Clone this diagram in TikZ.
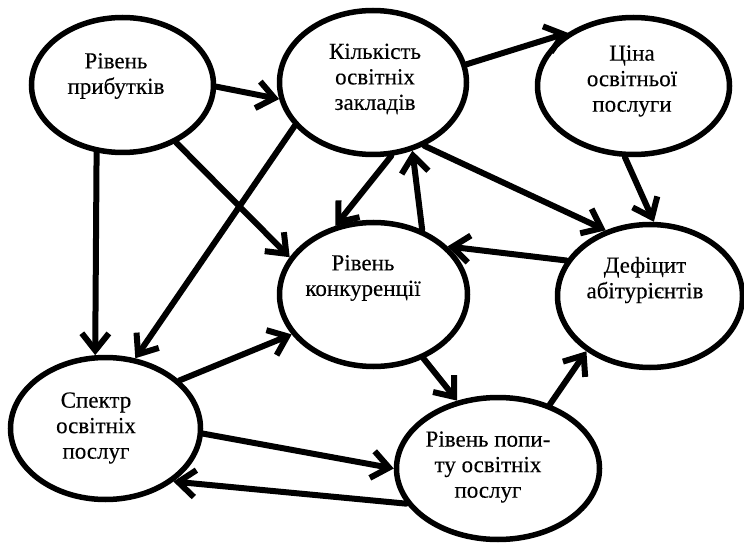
\documentclass[tikz,border=0pt]{standalone}
\usepackage{fontspec}
\setmainfont{Liberation Serif}
\newfontfamily\ovalfont{Liberation Serif}[FakeBold=0.25]
\usetikzlibrary{shapes.geometric,arrows.meta}

\begin{document}
\begin{tikzpicture}[
    x=1pt, y=-1pt,
    oval/.style={draw, ellipse, line width=5.5pt, inner sep=0pt},
    words/.style={align=center, inner sep=0pt, font=\ovalfont\fontsize{23}{25.5}\selectfont},
    link/.style={line width=6pt, line cap=round, -{Straight Barb[length=17pt, width=27pt]}}
]
\useasboundingbox (0,0) rectangle (744,545);

% ovals
\node[oval, minimum width=182pt, minimum height=135pt] (prib) at (122.5,85) {};
\node[oval, minimum width=187pt, minimum height=144pt] (kilk) at (373,82.5) {};
\node[oval, minimum width=192pt, minimum height=137pt] (tsina) at (633.5,86) {};
\node[oval, minimum width=188pt, minimum height=144pt] (konk) at (373.5,294.5) {};
\node[oval, minimum width=185pt, minimum height=143pt] (defic) at (650,296) {};
\node[oval, minimum width=190pt, minimum height=142pt] (spektr) at (105.5,428.5) {};
\node[oval, minimum width=203pt, minimum height=142pt] (popyt) at (498,468.5) {};

% texts
\node[words] (prib-t) at (116,76) {Рівень\\прибутків};
\node[words] (kilk-t) at (375,79) {Кількість\\освітніх\\закладів};
\node[words] (tsina-t) at (632,81) {Ціна\\освітньої\\послуги};
\node[words] (konk-t) at (363,278) {Рівень\\конкуренції};
\node[words] (defic-t) at (645,280) {Дефіцит\\абітурієнтів};
\node[words] (spektr-t) at (96,428) {Спектр\\освітніх\\послуг};
\node[words] (popyt-t) at (488,467) {Рівень попи-\\ту освітніх\\послуг};

% links
\draw[link] (prib.-1) -- (kilk.190);
\draw[link] (prib.249) -- (spektr.98);
\draw[link] (prib.-47) -- (konk.156);
\draw[link] (kilk.209) -- (spektr.67);
\draw[link] (kilk.11) -- (tsina.141);
\draw[link] (kilk.284) -- (konk.119);
\draw[link] (konk.53) -- (kilk.300);
\draw[link] (kilk.309) -- (defic.124);
\draw[link] (tsina.263) -- (defic.87);
\draw[link] (defic.157) -- (konk.33);
\draw[link] (spektr.33) -- (konk.206);
\draw[link] (konk.308) -- (popyt.121);
\draw[link] (popyt.51) -- (defic.221);
\draw[link] (spektr.-3) -- (popyt.180);
\draw[link] (popyt.201) -- (spektr.322);
\end{tikzpicture}
\end{document}
